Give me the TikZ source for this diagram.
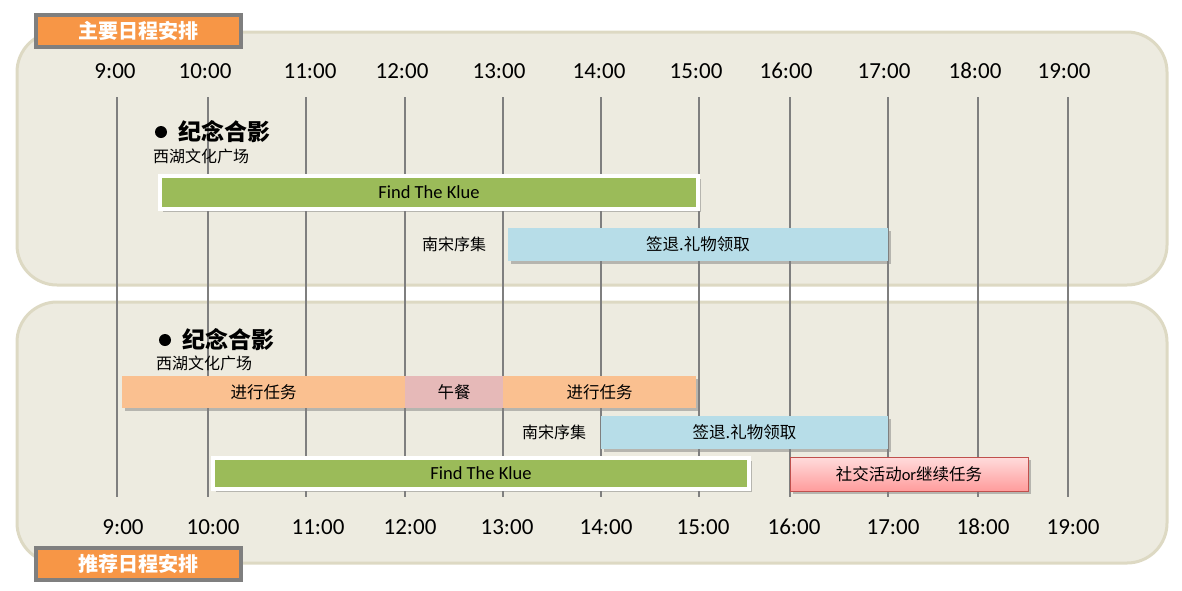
\documentclass[tikz,border=0pt]{standalone}
\usepackage{fontspec}
\setmainfont{Carlito}
\newfontfamily\cjk{Noto Sans CJK SC}
\usetikzlibrary{shadows}
\definecolor{panelfill}{HTML}{EDEBE0}
\definecolor{panelline}{HTML}{DDD9C3}
\definecolor{tagorange}{HTML}{F79646}
\definecolor{taggray}{HTML}{7F7F7F}
\definecolor{barGreen}{HTML}{9BBB59}
\definecolor{barBlue}{HTML}{B7DDE8}
\definecolor{barOrange}{HTML}{FAC090}
\definecolor{barLunch}{HTML}{E6B9B8}
\definecolor{redTop}{HTML}{FFDCDC}
\definecolor{redBot}{HTML}{FF9C9C}
\definecolor{redLine}{HTML}{C0504D}
\definecolor{gridline}{HTML}{7F7F7F}
\tikzset{
  panel/.style={fill=panelfill, draw=panelline, line width=3pt, rounded corners=40pt},
  tagbox/.style={fill=tagorange, draw=taggray, line width=3.5pt, minimum width=205pt, minimum height=32pt, inner sep=0pt,
    font=\cjk\fontsize{20}{20}\selectfont\bfseries, text=white,
    drop shadow={shadow xshift=2pt, shadow yshift=-2pt, opacity=.45}},
  timelbl/.style={font=\fontsize{23}{23}\selectfont, inner sep=0pt},
  grid/.style={draw=gridline, line width=2pt},
  bar/.style={inner sep=0pt, font=\cjk\fontsize{16.5}{16.5}\selectfont,
    drop shadow={shadow xshift=2.5pt, shadow yshift=-2.5pt, opacity=.5}},
  whitebar/.style={bar, fill=barGreen, draw=white, line width=3.5pt, font=\fontsize{18.5}{18.5}\selectfont},
  plainlbl/.style={inner sep=0pt, font=\cjk\fontsize{16}{16}\selectfont},
  titlelbl/.style={inner sep=0pt, anchor=west, font=\cjk\fontsize{23}{23}\selectfont\bfseries},
  sublbl/.style={inner sep=0pt, anchor=west, font=\cjk\fontsize{16}{16}\selectfont},
  dot/.style={circle, fill=black, inner sep=0pt, minimum size=12pt}
}
\begin{document}
\begin{tikzpicture}[x=1pt,y=-1pt]
\useasboundingbox (0,0) rectangle (1182,590);
% panels
\path[panel] (17,32) rectangle (1167,285);
\path[panel] (17,302) rectangle (1167,563);
% grid lines
\foreach \gx in {117,208,306,405,503,601,699,790,888,978,1068}
  \draw[grid] (\gx,97) -- (\gx,497);
% tag boxes
\node[tagbox] (tagTop) at (138.5,31) {主要日程安排};
\node[tagbox] (tagBot) at (138.5,564) {推荐日程安排};
% time labels top
\foreach \lx/\lt [count=\i] in {115/9:00,205/10:00,310/11:00,402/12:00,499/13:00,599/14:00,696/15:00,786/16:00,884/17:00,975/18:00,1064/19:00}
  \node[timelbl] (tt\i) at (\lx,71) {\lt};
% time labels bottom
\foreach \lx/\lt [count=\i] in {123/9:00,213/10:00,318/11:00,410/12:00,507/13:00,606/14:00,703/15:00,794/16:00,893/17:00,983/18:00,1073/19:00}
  \node[timelbl] (tb\i) at (\lx,527) {\lt};
% top panel content
\node[dot] (dotTop) at (161,132) {};
\node[titlelbl] (titleTop) at (178,132) {纪念合影};
\node[sublbl] (subTop) at (153,156) {西湖文化广场};
\node[whitebar, minimum width=538pt, minimum height=33pt] (ftkTop) at (429,192.5) {Find The Klue};
\node[plainlbl] (nsTop) at (454,244) {南宋序集};
\node[bar, fill=barBlue, minimum width=380pt, minimum height=33pt] (qtTop) at (698,244.5) {签退.礼物领取};
% bottom panel content
\node[dot] (dotBot) at (165,340) {};
\node[titlelbl] (titleBot) at (182,340) {纪念合影};
\node[sublbl] (subBot) at (156,363) {西湖文化广场};
\node[bar, fill=barOrange, minimum width=283pt, minimum height=32pt] (task1) at (263.5,392) {进行任务};
\node[bar, fill=barLunch, minimum width=98pt, minimum height=32pt] (lunch) at (454,392) {午餐};
\node[bar, fill=barOrange, minimum width=193pt, minimum height=32pt] (task2) at (599.5,392) {进行任务};
\node[plainlbl] (nsBot) at (554,432) {南宋序集};
\node[bar, fill=barBlue, minimum width=287pt, minimum height=33pt] (qtBot) at (744.5,432.5) {签退.礼物领取};
\node[whitebar, minimum width=536pt, minimum height=31pt] (ftkBot) at (481,473.5) {Find The Klue};
\node[bar, top color=redTop, bottom color=redBot, draw=redLine, line width=1pt, minimum width=238pt, minimum height=34pt] (social) at (909,474) {社交活动{\fontspec{Carlito}or}继续任务};
\end{tikzpicture}
\end{document}
